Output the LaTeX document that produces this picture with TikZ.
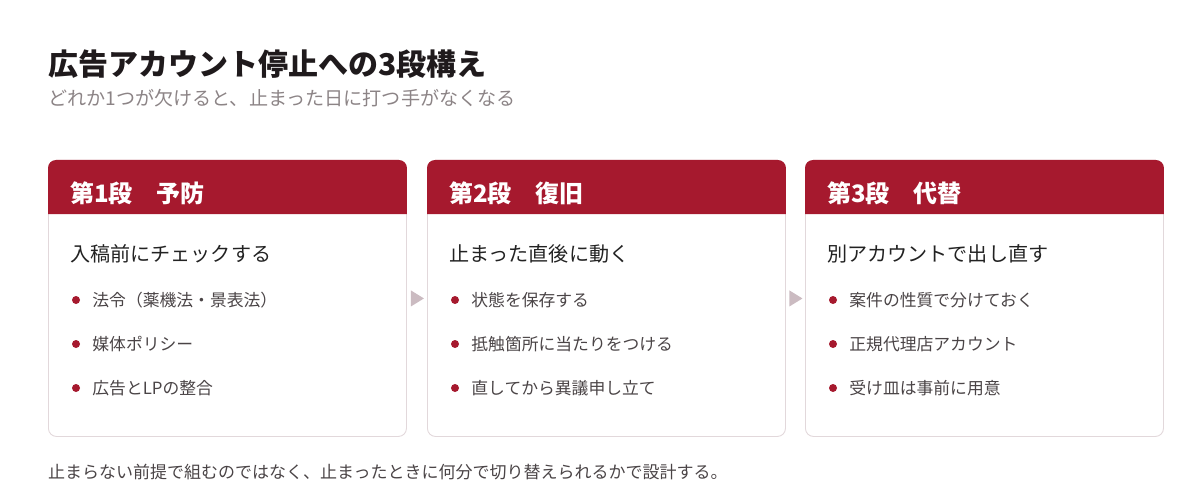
\documentclass[tikz,border=0pt]{standalone}
\usepackage{fontspec}
\setmainfont{Noto Sans CJK JP}
\usepackage{xcolor}
\usetikzlibrary{calc,positioning}

\definecolor{stagered}{HTML}{A6192E}
\definecolor{cardline}{HTML}{E2D8DB}
\definecolor{arrowgray}{HTML}{CBBBC1}
\definecolor{titleink}{HTML}{1F1A1C}
\definecolor{subink}{HTML}{8C8486}
\definecolor{headink}{HTML}{222222}
\definecolor{itemink}{HTML}{4A4446}

\tikzset{
	card/.style={draw=cardline,line width=0.9pt,rounded corners=8pt,minimum width=358pt,minimum height=276pt,anchor=north west,inner sep=0pt},
	stagehead/.style={anchor=west,inner sep=0pt,text=white,font=\fontsize{24}{28}\selectfont\bfseries},
	lead/.style={anchor=west,inner sep=0pt,text=headink,font=\fontsize{20.1}{24}\selectfont},
	item/.style={anchor=west,inner sep=0pt,text=itemink,font=\fontsize{16.8}{20}\selectfont},
	dot/.style={circle,fill=stagered,inner sep=0pt,minimum size=8pt}
}

\begin{document}
\begin{tikzpicture}[x=1pt,y=-1pt]
	\useasboundingbox (0,0) rectangle (1200,500);
	% title
	\node[anchor=west,inner sep=0pt,text=titleink,font=\fontsize{30}{35}\selectfont\bfseries] (title) at (48,64) {広告アカウント停止への3段構え};
	\node[anchor=west,inner sep=0pt,text=subink,font=\fontsize{19.1}{23}\selectfont] (subtitle) at (48,98) {どれか1つが欠けると、止まった日に打つ手がなくなる};
	% cards
	\node[card] (c1) at (48,160) {};
	\node[card] (c2) at (427,160) {};
	\node[card] (c3) at (805,160) {};
	\foreach \c in {c1,c2,c3}{
		\fill[stagered] ($(\c.north west)+(0,54)$) [rounded corners=8pt]-- (\c.north west) -- (\c.north east) [sharp corners]-- ($(\c.north east)+(0,54)$) -- cycle;
	}
	% card 1
	\node[stagehead] (h1) at ($(c1.north west)+(22,33)$) {第1段　予防};
	\node[lead] (l1) at ($(c1.north west)+(22,94)$) {入稿前にチェックする};
	\node[dot] (d11) at ($(c1.north west)+(28,140)$) {};
	\node[item,right=12pt of d11] (t11) {法令（薬機法・景表法）};
	\node[dot] (d12) at ($(c1.north west)+(28,184)$) {};
	\node[item,right=12pt of d12] (t12) {媒体ポリシー};
	\node[dot] (d13) at ($(c1.north west)+(28,228)$) {};
	\node[item,right=12pt of d13] (t13) {広告とLPの整合};
	% card 2
	\node[stagehead] (h2) at ($(c2.north west)+(22,33)$) {第2段　復旧};
	\node[lead] (l2) at ($(c2.north west)+(22,94)$) {止まった直後に動く};
	\node[dot] (d21) at ($(c2.north west)+(28,140)$) {};
	\node[item,right=12pt of d21] (t21) {状態を保存する};
	\node[dot] (d22) at ($(c2.north west)+(28,184)$) {};
	\node[item,right=12pt of d22] (t22) {抵触箇所に当たりをつける};
	\node[dot] (d23) at ($(c2.north west)+(28,228)$) {};
	\node[item,right=12pt of d23] (t23) {直してから異議申し立て};
	% card 3
	\node[stagehead] (h3) at ($(c3.north west)+(22,33)$) {第3段　代替};
	\node[lead] (l3) at ($(c3.north west)+(22,94)$) {別アカウントで出し直す};
	\node[dot] (d31) at ($(c3.north west)+(28,140)$) {};
	\node[item,right=12pt of d31] (t31) {案件の性質で分けておく};
	\node[dot] (d32) at ($(c3.north west)+(28,184)$) {};
	\node[item,right=12pt of d32] (t32) {正規代理店アカウント};
	\node[dot] (d33) at ($(c3.north west)+(28,228)$) {};
	\node[item,right=12pt of d33] (t33) {受け皿は事前に用意};
	% arrows between cards
	\coordinate (a1) at ($(c1.east)!0.5!(c2.west)$);
	\coordinate (a2) at ($(c2.east)!0.5!(c3.west)$);
	\foreach \a in {a1,a2}{
		\fill[arrowgray] ($(\a)+(-6,-8)$) -- ($(\a)+(7,0)$) -- ($(\a)+(-6,8)$) -- cycle;
	}
	% footer
	\node[anchor=west,inner sep=0pt,text=itemink,font=\fontsize{17}{20}\selectfont] (note) at (48,472) {止まらない前提で組むのではなく、止まったときに何分で切り替えられるかで設計する。};
\end{tikzpicture}
\end{document}
